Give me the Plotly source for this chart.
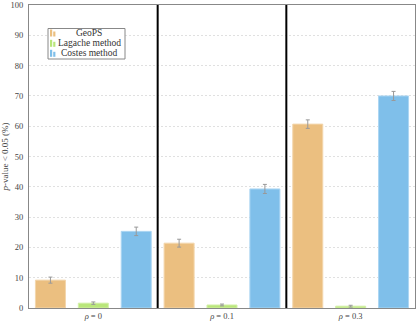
import plotly.graph_objects as go

categories = ["<i>ρ</i> = 0", "<i>ρ</i> = 0.1", "<i>ρ</i> = 0.3"]
series_names = ["GeoPS", "Lagache method", "Costes method"]
geops = [9.2, 21.4, 60.7]
geops_err = [1.0, 1.3, 1.4]
lagache = [1.6, 1.0, 0.6]
lagache_err = [0.4, 0.3, 0.3]
costes = [25.3, 39.3, 70.0]
costes_err = [1.4, 1.5, 1.5]
y_ticks = list(range(0, 101, 10))

colors = ["#ebbf80", "#b9e67a", "#7fbfea"]
edge = ["#f3d6ac", "#d3f0a8", "#acd6f3"]

W, H = 416, 324
L, R, T, B = 29, 1, 5, 16
pw, ph = W - L - R, H - T - B


def px(x):
    return (x - L) / pw


def py(y):
    return (H - B - y) / ph


fig = go.Figure()
for name, vals, errs, c, e in zip(series_names, [geops, lagache, costes],
                                  [geops_err, lagache_err, costes_err], colors, edge):
    fig.add_trace(go.Bar(
        name=name, x=[0, 1, 2], y=vals,
        marker=dict(color=c, line=dict(color=e, width=1)),
        error_y=dict(type="data", array=errs, color="#999999", thickness=1, width=2),
        showlegend=False,
    ))

shapes = []
for xs in [0.5, 1.5]:
    shapes.append(dict(type="line", xref="x", yref="paper", x0=xs, x1=xs, y0=0, y1=1,
                       line=dict(color="black", width=2)))

# custom compact legend (pgfplots style)
annotations = []
shapes.append(dict(type="rect", xref="paper", yref="paper",
                   x0=px(48), x1=px(125), y0=py(59), y1=py(28.5),
                   fillcolor="white", line=dict(color="#888888", width=1), layer="above"))
rows = [33, 43.3, 53.3]
for name, c, yy in zip(series_names, colors, rows):
    shapes.append(dict(type="rect", xref="paper", yref="paper",
                       x0=px(50), x1=px(52.2), y0=py(yy + 3.5), y1=py(yy - 3.5),
                       fillcolor=c, line=dict(width=0), layer="above"))
    shapes.append(dict(type="rect", xref="paper", yref="paper",
                       x0=px(53.2), x1=px(55.4), y0=py(yy + 3.5), y1=py(yy - 1.5),
                       fillcolor=c, line=dict(width=0), layer="above"))
    annotations.append(dict(text=name, xref="paper", yref="paper", x=px(89), y=py(yy),
                            xanchor="center", yanchor="middle", showarrow=False,
                            font=dict(size=9.5, color="#333333")))

fig.update_layout(
    width=W, height=H,
    margin=dict(l=L, r=R, t=T, b=B, autoexpand=False),
    paper_bgcolor="white", plot_bgcolor="white",
    barmode="group", bargap=0.0, bargroupgap=0.3,
    font=dict(family="Liberation Serif", size=8.5, color="#444444"),
    showlegend=False,
    shapes=shapes,
    annotations=annotations,
    xaxis=dict(range=[-0.5, 2.5], tickvals=[0, 1, 2], ticktext=categories,
               showline=True, linecolor="#888888", linewidth=1, mirror=True,
               showgrid=False, ticks="", zeroline=False, tickfont=dict(size=8.5)),
    yaxis=dict(range=[0, 100.02], tickvals=y_ticks, showline=True, linecolor="#888888",
               linewidth=1, mirror=True, showgrid=True, gridcolor="#e0e0e0",
               griddash="2px,2px", gridwidth=1, zeroline=False, ticks="",
               ticklabelstandoff=3, automargin=False,
               title=dict(text="<i>p</i>-value < 0.05 (%)", standoff=4, font=dict(size=9))),
)

fig.write_html("out.html", config={"displayModeBar": False},
               post_script="document.body.style.margin='0';document.body.style.overflow='hidden';")
